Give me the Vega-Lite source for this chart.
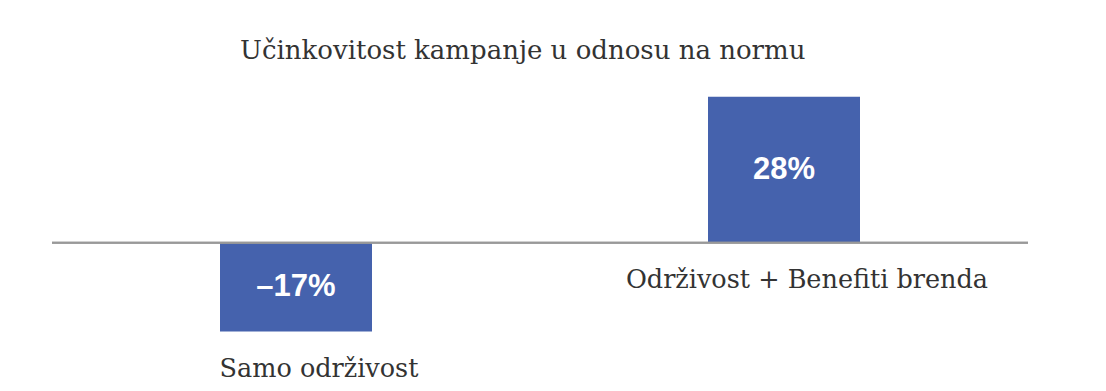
{
  "$schema": "https://vega.github.io/schema/vega-lite/v6.json",
  "width": 976,
  "height": 308,
  "autosize": {"type": "none"},
  "padding": {"left": 52, "top": 81, "right": 78, "bottom": 2},
  "background": "white",
  "config": {"view": {"stroke": null}},
  "title": {
    "text": "Učinkovitost kampanje u odnosu na normu",
    "anchor": "start",
    "frame": "group",
    "dx": 188,
    "offset": 17,
    "font": "DejaVu Serif",
    "fontSize": 26,
    "fontWeight": "normal",
    "color": "#333333"
  },
  "data": {
    "values": [
      {"category": "Samo održivost", "value": -17, "label": "–17%"},
      {"category": "Održivost + Benefiti brenda", "value": 28, "label": "28%"}
    ]
  },
  "transform": [
    {"calculate": "datum.value / 2", "as": "mid"},
    {"calculate": "min(datum.value, 0)", "as": "low"}
  ],
  "encoding": {
    "x": {
      "field": "category",
      "type": "nominal",
      "sort": null,
      "scale": {"paddingInner": 0, "paddingOuter": 0},
      "axis": null
    }
  },
  "layer": [
    {
      "mark": {"type": "bar", "size": 152, "color": "#4562ad"},
      "encoding": {
        "y": {"field": "value", "type": "quantitative", "scale": {"domain": [-28, 31], "nice": false, "zero": true}, "axis": null}
      }
    },
    {
      "mark": {"type": "rule", "color": "#999999", "strokeWidth": 2},
      "encoding": {"y": {"datum": 0, "type": "quantitative"}, "x": null}
    },
    {
      "mark": {"type": "text", "color": "white", "font": "Liberation Sans", "fontWeight": "bold", "fontSize": 31, "baseline": "middle"},
      "encoding": {
        "y": {"field": "mid", "type": "quantitative"},
        "text": {"field": "label"}
      }
    },
    {
      "mark": {"type": "text", "color": "#333333", "font": "DejaVu Serif", "fontSize": 25.5, "baseline": "alphabetic", "dy": 45, "dx": 23},
      "encoding": {
        "y": {"field": "low", "type": "quantitative"},
        "text": {"field": "category"}
      }
    }
  ],
  "resolve": {"scale": {"y": "shared"}}
}
